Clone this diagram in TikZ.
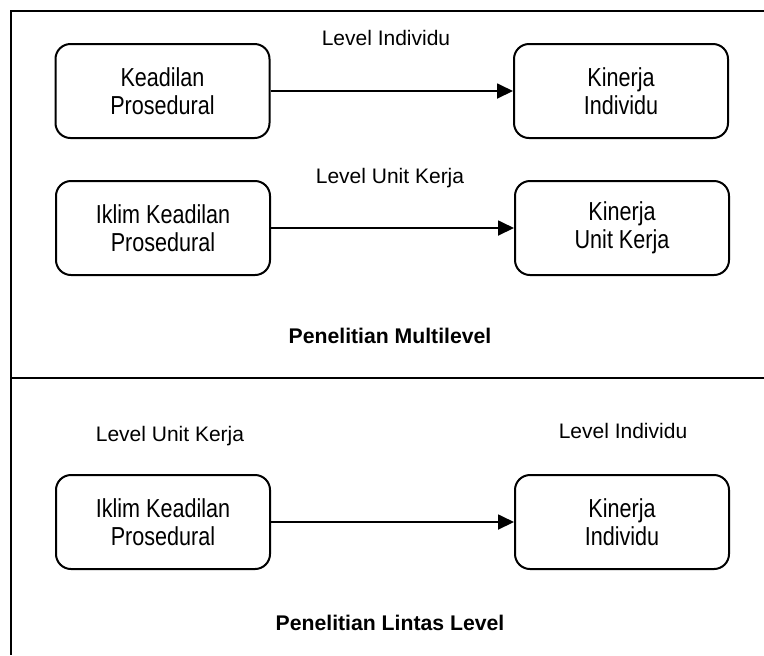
\documentclass[tikz,border=0pt]{standalone}
\usepackage{fontspec}
\setmainfont{Liberation Sans}
\newfontfamily\boxfont{Liberation Sans}[FakeStretch=0.83]
\usepackage{tikz}
\usetikzlibrary{arrows.meta}
\usetikzlibrary{positioning}

\begin{document}
\begin{tikzpicture}[
        x = 0.5pt, y = -0.5pt,
        box/.style = {draw, rectangle, rounded corners = 7.5pt, line width = 1pt,
                      minimum width = 107pt, minimum height = 47pt, align = center,
                      font = \boxfont\fontsize{13}{14}\selectfont},
        lbl/.style = {anchor = base, inner sep = 0pt, font = \fontsize{10.5}{12}\selectfont},
        title/.style = {anchor = base, inner sep = 0pt, font = \bfseries\fontsize{10.6}{12}\selectfont},
        arr/.style = {line width = 0.9pt, -{Triangle[length = 8pt, width = 7.5pt]}},
        frame/.style = {line width = 1pt},
        ]
    \useasboundingbox (0,0) rectangle (764,655);

    % frame
    \coordinate (tl) at (11,11);
    \coordinate (tr) at (764,11);
    \coordinate (bl) at (11,655);
    \coordinate (ml) at (11,378);
    \coordinate (mr) at (764,378);
    \draw[frame] (tr) -- (tl) -- (bl);
    \draw[frame] (ml) -- (mr);

    % multilevel
    \node[lbl] (lvI) at (386,45) {Level Individu};
    \node[box] (kp) at (162.5,91) {Keadilan\\Prosedural};
    \node[box] (ki) at (621,91) {Kinerja\\Individu};
    \draw[arr] (kp) -- (ki);

    \node[lbl] (lvU) at (390,183) {Level Unit Kerja};
    \node[box] (ikp) at (163,228) {Iklim Keadilan\\Prosedural};
    \node[box] (kuk) at (622,228) {Kinerja\\Unit Kerja};
    \draw[arr] (ikp) -- (kuk);

    \node[title] (pm) at (390,343) {Penelitian Multilevel};

    % lintas level
    \node[lbl] (lvU2) at (170,441) {Level Unit Kerja};
    \node[lbl] (lvI2) at (623,438) {Level Individu};
    \node[box] (ikp2) at (163,522) {Iklim Keadilan\\Prosedural};
    \node[box] (ki2) at (622,522) {Kinerja\\Individu};
    \draw[arr] (ikp2) -- (ki2);

    \node[title] (pl) at (390,630) {Penelitian Lintas Level};
\end{tikzpicture}
\end{document}
